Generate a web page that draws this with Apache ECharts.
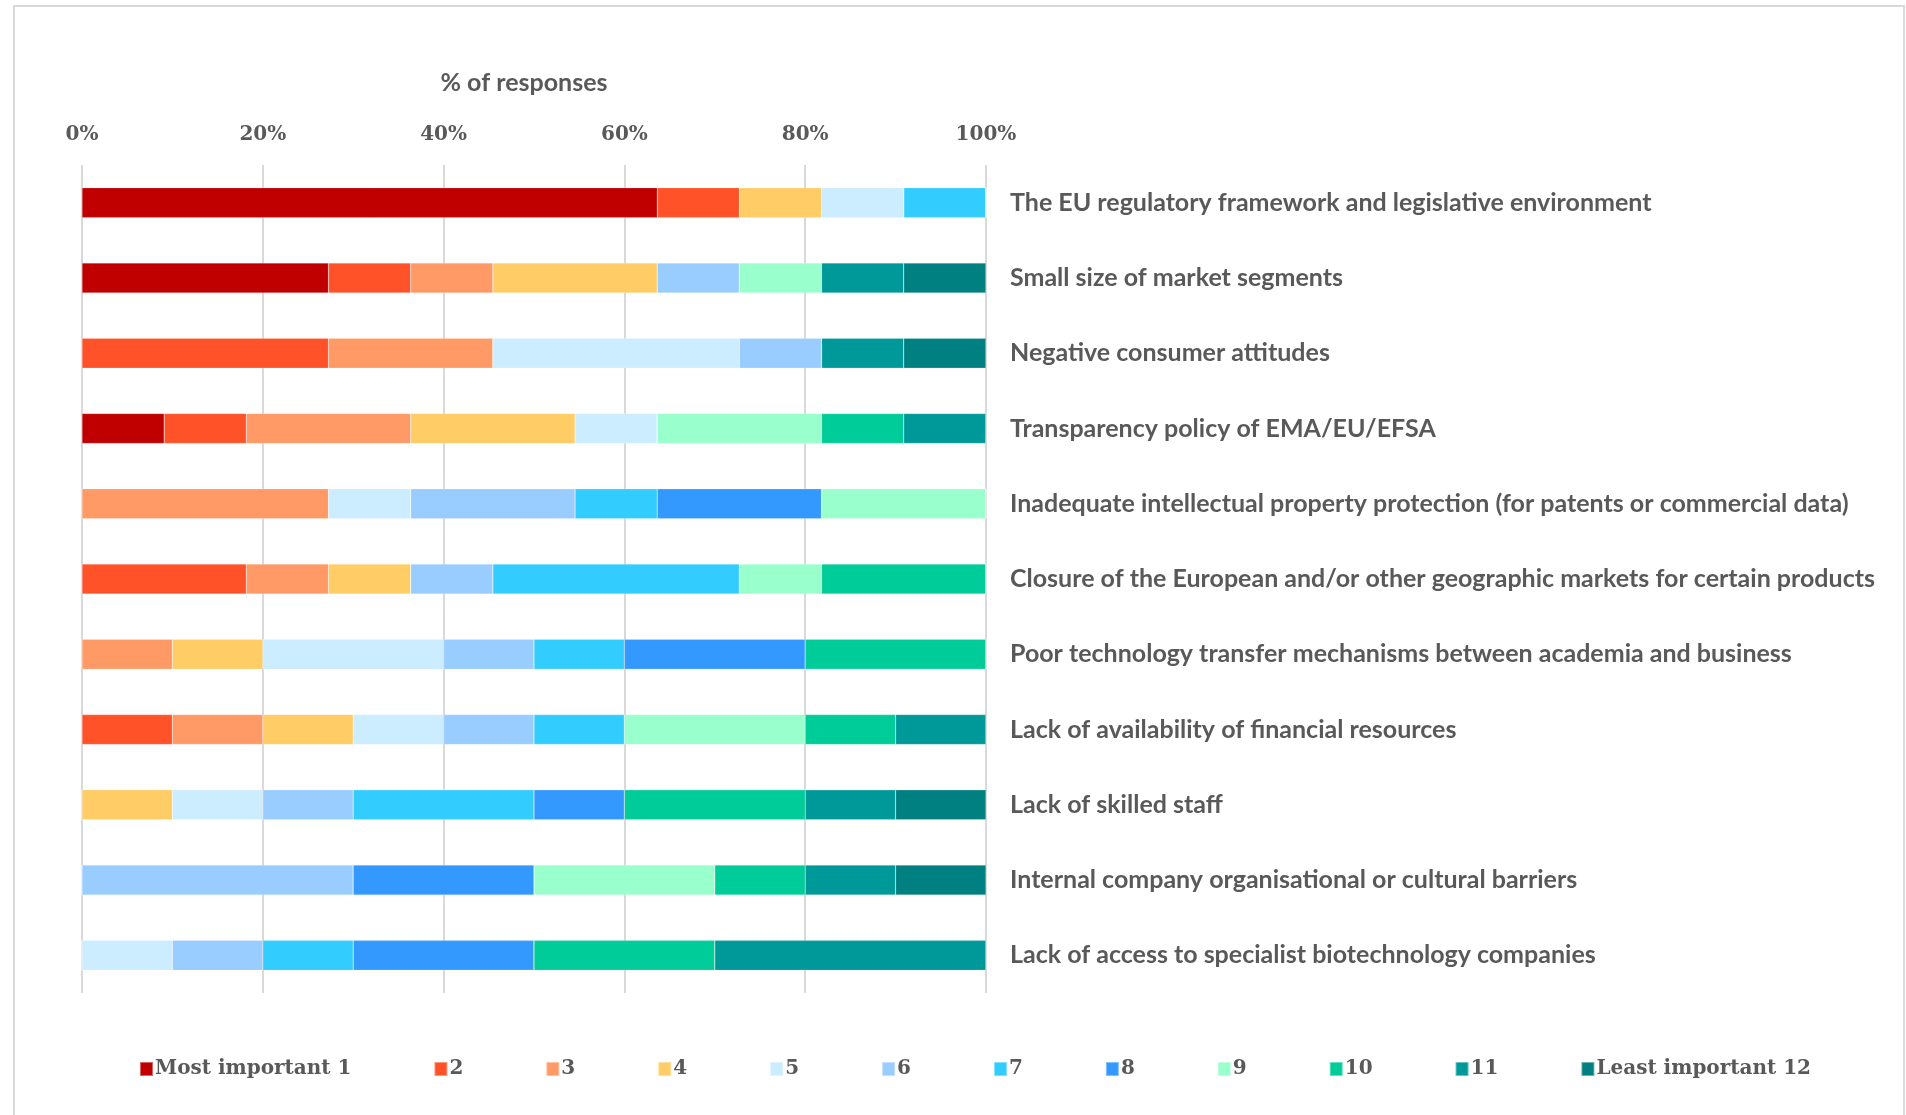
<!DOCTYPE html>
<html>
<head>
<meta charset="utf-8">
<script src="https://cdn.jsdelivr.net/npm/echarts@6/dist/echarts.min.js"></script>
<style>
  html, body { margin: 0; padding: 0; background: #fff; }
  #main { width: 1906px; height: 1115px; }
</style>
</head>
<body>
<div id="main"></div>
<script>
// categories, top to bottom
const categories = [
  'The EU regulatory framework and legislative environment',
  'Small size of market segments',
  'Negative consumer attitudes',
  'Transparency policy of EMA/EU/EFSA',
  'Inadequate intellectual property protection (for patents or commercial data)',
  'Closure of the European and/or other geographic markets for certain products',
  'Poor technology transfer mechanisms between academia and business',
  'Lack of availability of financial resources',
  'Lack of skilled staff',
  'Internal company organisational or cultural barriers',
  'Lack of access to specialist biotechnology companies'
]

const rankNames = ['Most important 1', '2', '3', '4', '5', '6', '7', '8', '9', '10', '11', 'Least important 12']
const xTicks = [0, 20, 40, 60, 80, 100]

// % of responses per rank, one value per category
const rank1 = [63.64, 27.27, 0, 9.09, 0, 0, 0, 0, 0, 0, 0]
const rank2 = [9.09, 9.09, 27.27, 9.09, 0, 18.18, 0, 10, 0, 0, 0]
const rank3 = [0, 9.09, 18.18, 18.18, 27.27, 9.09, 10, 10, 0, 0, 0]
const rank4 = [9.09, 18.18, 0, 18.18, 0, 9.09, 10, 10, 10, 0, 0]
const rank5 = [9.09, 0, 27.27, 9.09, 9.09, 0, 20, 10, 10, 0, 10]
const rank6 = [0, 9.09, 9.09, 0, 18.18, 9.09, 10, 10, 10, 30, 10]
const rank7 = [9.09, 0, 0, 0, 9.09, 27.27, 10, 10, 20, 0, 10]
const rank8 = [0, 0, 0, 0, 18.18, 0, 20, 0, 10, 20, 20]
const rank9 = [0, 9.09, 0, 18.18, 18.18, 9.09, 0, 20, 0, 20, 0]
const rank10 = [0, 0, 0, 9.09, 0, 18.18, 20, 10, 20, 10, 20]
const rank11 = [0, 9.09, 9.09, 9.09, 0, 0, 0, 10, 10, 10, 30]
const rank12 = [0, 9.09, 9.09, 0, 0, 0, 0, 0, 10, 10, 0]

const rankData = [rank1, rank2, rank3, rank4, rank5, rank6, rank7, rank8, rank9, rank10, rank11, rank12]
const colors = ['#C00000', '#FF5229', '#FF9966', '#FFCC66', '#CCECFF', '#99CCFF',
  '#33CCFF', '#3399FF', '#99FFCC', '#00CC99', '#009999', '#008080']

const chart = echarts.init(document.getElementById('main'))

chart.setOption({
  animation: false,
  color: colors,
  graphic: [{
    type: 'rect',
    shape: { x: 14, y: 6, width: 1890, height: 1200 },
    style: { fill: 'none', stroke: '#d9d9d9', lineWidth: 2 }
  }],
  grid: { left: 82, right: 920, top: 165, bottom: 122 },
  legend: {
    left: 134,
    top: 1054,
    itemWidth: 13,
    itemHeight: 14,
    itemGap: 82,
    icon: 'rect',
    textStyle: { fontFamily: 'DejaVu Serif', fontWeight: 'bold', fontSize: 20, color: '#595959', padding: [0, 0, 0, -3] },
    data: rankNames
  },
  xAxis: {
    type: 'value',
    position: 'top',
    min: 0,
    max: 100,
    interval: 20,
    name: '% of responses',
    nameLocation: 'middle',
    nameGap: 70,
    nameTextStyle: { fontFamily: 'Lato', fontWeight: 'bold', fontSize: 25, color: '#595959', padding: [0, 20, 0, 0] },
    axisLine: { show: false },
    axisTick: { show: false },
    splitLine: { lineStyle: { color: '#d9d9d9', width: 2 } },
    axisLabel: {
      margin: 20,
      formatter: v => xTicks.includes(v) ? v + '%' : '',
      fontFamily: 'DejaVu Serif',
      fontWeight: 'bold',
      fontSize: 20,
      color: '#595959'
    }
  },
  yAxis: {
    type: 'category',
    position: 'right',
    inverse: true,
    data: categories,
    axisLine: { show: false },
    axisTick: { show: false },
    axisLabel: {
      margin: 24,
      fontFamily: 'Lato',
      fontWeight: 'bold',
      fontSize: 25,
      color: '#595959'
    }
  },
  series: rankData.map((d, i) => ({
    name: rankNames[i],
    type: 'bar',
    stack: 'total',
    barWidth: 30,
    itemStyle: { borderColor: 'rgba(255,255,255,0.4)', borderWidth: 0.5 },
    data: d
  }))
})
</script>
</body>
</html>
